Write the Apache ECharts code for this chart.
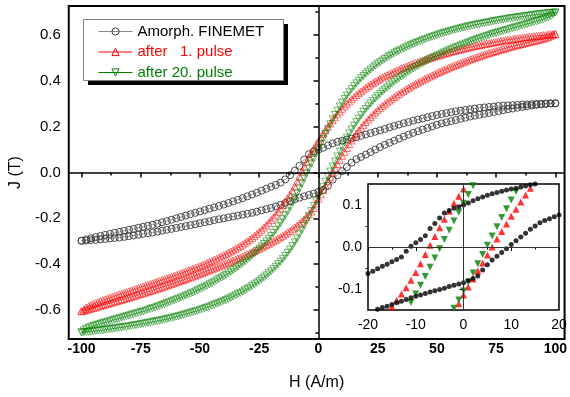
<!DOCTYPE html>
<html>
<head>
<meta charset="utf-8">
<script src="https://cdn.jsdelivr.net/npm/echarts@6/dist/echarts.min.js"></script>
<style>
  html, body { margin: 0; padding: 0; background: #fff; }
  #chart { width: 570px; height: 397px; }
</style>
</head>
<body>
<div id="chart"></div>
<script>
// field H (A/m) for the amorphous loop, 2 A/m steps
const hMain = [
  -100, -98, -96, -94, -92, -90, -88, -86, -84, -82,
  -80, -78, -76, -74, -72, -70, -68, -66, -64, -62,
  -60, -58, -56, -54, -52, -50, -48, -46, -44, -42,
  -40, -38, -36, -34, -32, -30, -28, -26, -24, -22,
  -20, -18, -16, -14, -12, -10, -8, -6, -4, -2,
  0, 2, 4, 6, 8, 10, 12, 14, 16, 18,
  20, 22, 24, 26, 28, 30, 32, 34, 36, 38,
  40, 42, 44, 46, 48, 50, 52, 54, 56, 58,
  60, 62, 64, 66, 68, 70, 72, 74, 76, 78,
  80, 82, 84, 86, 88, 90, 92, 94, 96, 98,
  100
];
// field H (A/m) for the pulsed loops, 1 A/m steps
const hFine = [
  -100, -99, -98, -97, -96, -95, -94, -93, -92, -91,
  -90, -89, -88, -87, -86, -85, -84, -83, -82, -81,
  -80, -79, -78, -77, -76, -75, -74, -73, -72, -71,
  -70, -69, -68, -67, -66, -65, -64, -63, -62, -61,
  -60, -59, -58, -57, -56, -55, -54, -53, -52, -51,
  -50, -49, -48, -47, -46, -45, -44, -43, -42, -41,
  -40, -39, -38, -37, -36, -35, -34, -33, -32, -31,
  -30, -29, -28, -27, -26, -25, -24, -23, -22, -21,
  -20, -19, -18, -17, -16, -15, -14, -13, -12, -11,
  -10, -9, -8, -7, -6, -5, -4, -3, -2, -1,
  0, 1, 2, 3, 4, 5, 6, 7, 8, 9,
  10, 11, 12, 13, 14, 15, 16, 17, 18, 19,
  20, 21, 22, 23, 24, 25, 26, 27, 28, 29,
  30, 31, 32, 33, 34, 35, 36, 37, 38, 39,
  40, 41, 42, 43, 44, 45, 46, 47, 48, 49,
  50, 51, 52, 53, 54, 55, 56, 57, 58, 59,
  60, 61, 62, 63, 64, 65, 66, 67, 68, 69,
  70, 71, 72, 73, 74, 75, 76, 77, 78, 79,
  80, 81, 82, 83, 84, 85, 86, 87, 88, 89,
  90, 91, 92, 93, 94, 95, 96, 97, 98, 99,
  100
];

// J (T): "Up" = descending (upper) branch, "Low" = ascending (lower) branch
const amorphUp = [
  -0.298, -0.292, -0.287, -0.282, -0.277, -0.272, -0.268, -0.263, -0.259, -0.254,
  -0.250, -0.246, -0.241, -0.237, -0.232, -0.228, -0.223, -0.217, -0.212, -0.206,
  -0.200, -0.194, -0.188, -0.182, -0.176, -0.170, -0.164, -0.158, -0.152, -0.146,
  -0.140, -0.133, -0.126, -0.119, -0.112, -0.104, -0.096, -0.088, -0.079, -0.071,
  -0.062, -0.054, -0.044, -0.030, -0.012, 0.008, 0.029, 0.056, 0.080, 0.092,
  0.100, 0.108, 0.118, 0.127, 0.134, 0.139, 0.144, 0.148, 0.154, 0.160,
  0.166, 0.172, 0.178, 0.184, 0.190, 0.197, 0.203, 0.209, 0.215, 0.220,
  0.226, 0.231, 0.236, 0.241, 0.246, 0.251, 0.255, 0.259, 0.263, 0.267,
  0.270, 0.273, 0.276, 0.279, 0.282, 0.284, 0.286, 0.288, 0.290, 0.292,
  0.293, 0.294, 0.295, 0.296, 0.297, 0.298, 0.299, 0.300, 0.301, 0.302,
  0.302
];
const amorphLow = [
  -0.298, -0.297, -0.295, -0.294, -0.292, -0.290, -0.288, -0.286, -0.284, -0.281,
  -0.278, -0.275, -0.272, -0.268, -0.265, -0.262, -0.258, -0.254, -0.250, -0.246,
  -0.242, -0.238, -0.234, -0.230, -0.226, -0.221, -0.217, -0.213, -0.208, -0.204,
  -0.200, -0.196, -0.192, -0.188, -0.184, -0.180, -0.176, -0.171, -0.165, -0.160,
  -0.155, -0.148, -0.141, -0.133, -0.125, -0.117, -0.110, -0.104, -0.098, -0.092,
  -0.085, -0.076, -0.058, -0.031, -0.012, 0.006, 0.024, 0.043, 0.058, 0.068,
  0.078, 0.089, 0.100, 0.111, 0.121, 0.130, 0.139, 0.148, 0.157, 0.165,
  0.173, 0.180, 0.187, 0.194, 0.201, 0.208, 0.214, 0.219, 0.224, 0.229,
  0.234, 0.239, 0.244, 0.248, 0.252, 0.256, 0.260, 0.264, 0.268, 0.272,
  0.276, 0.279, 0.283, 0.286, 0.289, 0.292, 0.295, 0.297, 0.299, 0.301,
  0.302
];
const pulse1Up = [
  -0.605, -0.596, -0.589, -0.583, -0.578, -0.573, -0.569, -0.565, -0.561, -0.557,
  -0.553, -0.550, -0.546, -0.543, -0.539, -0.536, -0.532, -0.529, -0.525, -0.522,
  -0.518, -0.515, -0.511, -0.508, -0.504, -0.501, -0.497, -0.494, -0.490, -0.487,
  -0.483, -0.480, -0.476, -0.473, -0.469, -0.466, -0.462, -0.459, -0.455, -0.451,
  -0.447, -0.444, -0.440, -0.436, -0.432, -0.428, -0.424, -0.420, -0.416, -0.412,
  -0.408, -0.404, -0.399, -0.395, -0.390, -0.386, -0.381, -0.376, -0.371, -0.366,
  -0.361, -0.356, -0.350, -0.345, -0.339, -0.333, -0.327, -0.321, -0.314, -0.307,
  -0.300, -0.293, -0.285, -0.277, -0.268, -0.259, -0.250, -0.240, -0.230, -0.219,
  -0.208, -0.196, -0.184, -0.171, -0.157, -0.142, -0.127, -0.112, -0.097, -0.079,
  -0.061, -0.040, -0.018, 0.004, 0.025, 0.046, 0.066, 0.085, 0.104, 0.121,
  0.138, 0.154, 0.170, 0.185, 0.200, 0.214, 0.228, 0.241, 0.254, 0.266,
  0.278, 0.289, 0.300, 0.310, 0.320, 0.329, 0.338, 0.346, 0.354, 0.362,
  0.370, 0.377, 0.384, 0.391, 0.397, 0.403, 0.409, 0.415, 0.420, 0.425,
  0.430, 0.435, 0.440, 0.445, 0.449, 0.454, 0.458, 0.462, 0.466, 0.470,
  0.474, 0.478, 0.482, 0.486, 0.489, 0.493, 0.496, 0.500, 0.503, 0.506,
  0.509, 0.512, 0.515, 0.518, 0.521, 0.524, 0.527, 0.530, 0.532, 0.535,
  0.537, 0.540, 0.542, 0.545, 0.547, 0.550, 0.552, 0.554, 0.556, 0.558,
  0.560, 0.562, 0.564, 0.566, 0.568, 0.570, 0.572, 0.574, 0.576, 0.578,
  0.579, 0.581, 0.582, 0.584, 0.585, 0.587, 0.588, 0.590, 0.591, 0.592,
  0.593, 0.595, 0.596, 0.597, 0.598, 0.599, 0.600, 0.602, 0.603, 0.604,
  0.605
];
const pulse1Low = [
  -0.605, -0.603, -0.600, -0.597, -0.594, -0.591, -0.588, -0.585, -0.582, -0.579,
  -0.576, -0.573, -0.570, -0.567, -0.564, -0.561, -0.558, -0.555, -0.552, -0.549,
  -0.546, -0.543, -0.540, -0.537, -0.533, -0.530, -0.527, -0.524, -0.520, -0.517,
  -0.514, -0.511, -0.507, -0.504, -0.500, -0.497, -0.493, -0.490, -0.486, -0.483,
  -0.479, -0.476, -0.472, -0.469, -0.465, -0.461, -0.457, -0.454, -0.450, -0.446,
  -0.442, -0.438, -0.434, -0.430, -0.426, -0.422, -0.418, -0.414, -0.410, -0.406,
  -0.401, -0.397, -0.393, -0.389, -0.384, -0.380, -0.375, -0.371, -0.366, -0.362,
  -0.357, -0.352, -0.347, -0.342, -0.337, -0.332, -0.327, -0.322, -0.316, -0.311,
  -0.305, -0.300, -0.294, -0.288, -0.282, -0.276, -0.269, -0.262, -0.255, -0.248,
  -0.240, -0.232, -0.223, -0.214, -0.204, -0.194, -0.183, -0.170, -0.155, -0.135,
  -0.114, -0.095, -0.076, -0.057, -0.038, -0.019, 0.000, 0.019, 0.037, 0.055,
  0.073, 0.090, 0.107, 0.124, 0.140, 0.155, 0.170, 0.183, 0.196, 0.208,
  0.220, 0.231, 0.242, 0.252, 0.262, 0.272, 0.281, 0.290, 0.298, 0.306,
  0.314, 0.322, 0.329, 0.336, 0.343, 0.350, 0.356, 0.363, 0.369, 0.375,
  0.381, 0.387, 0.392, 0.398, 0.403, 0.409, 0.414, 0.419, 0.424, 0.429,
  0.434, 0.439, 0.443, 0.448, 0.452, 0.457, 0.461, 0.465, 0.469, 0.473,
  0.477, 0.481, 0.485, 0.489, 0.493, 0.497, 0.500, 0.504, 0.507, 0.511,
  0.514, 0.518, 0.521, 0.524, 0.527, 0.530, 0.533, 0.536, 0.539, 0.542,
  0.545, 0.548, 0.551, 0.554, 0.556, 0.559, 0.561, 0.564, 0.566, 0.569,
  0.571, 0.574, 0.576, 0.579, 0.581, 0.584, 0.587, 0.591, 0.595, 0.600,
  0.605
];
const pulse20Up = [
  -0.698, -0.689, -0.682, -0.677, -0.673, -0.669, -0.666, -0.663, -0.660, -0.657,
  -0.654, -0.651, -0.648, -0.645, -0.642, -0.639, -0.636, -0.633, -0.630, -0.627,
  -0.624, -0.621, -0.618, -0.615, -0.612, -0.609, -0.606, -0.603, -0.599, -0.596,
  -0.592, -0.589, -0.585, -0.582, -0.578, -0.574, -0.570, -0.566, -0.562, -0.558,
  -0.554, -0.550, -0.546, -0.542, -0.537, -0.533, -0.528, -0.524, -0.519, -0.514,
  -0.509, -0.504, -0.499, -0.494, -0.488, -0.483, -0.477, -0.471, -0.465, -0.459,
  -0.453, -0.447, -0.440, -0.433, -0.426, -0.419, -0.411, -0.404, -0.396, -0.388,
  -0.380, -0.371, -0.362, -0.353, -0.343, -0.333, -0.323, -0.312, -0.301, -0.289,
  -0.277, -0.264, -0.250, -0.235, -0.220, -0.204, -0.188, -0.170, -0.152, -0.132,
  -0.112, -0.091, -0.070, -0.048, -0.026, -0.004, 0.018, 0.040, 0.062, 0.083,
  0.104, 0.125, 0.146, 0.168, 0.190, 0.211, 0.232, 0.251, 0.270, 0.288,
  0.305, 0.321, 0.336, 0.350, 0.364, 0.377, 0.389, 0.400, 0.411, 0.421,
  0.431, 0.440, 0.449, 0.458, 0.466, 0.474, 0.481, 0.488, 0.495, 0.502,
  0.508, 0.514, 0.520, 0.526, 0.531, 0.536, 0.541, 0.546, 0.551, 0.556,
  0.560, 0.565, 0.569, 0.573, 0.577, 0.581, 0.585, 0.589, 0.592, 0.596,
  0.599, 0.603, 0.606, 0.609, 0.612, 0.615, 0.618, 0.621, 0.624, 0.627,
  0.629, 0.632, 0.634, 0.637, 0.639, 0.642, 0.644, 0.646, 0.648, 0.650,
  0.652, 0.654, 0.656, 0.658, 0.660, 0.662, 0.664, 0.666, 0.667, 0.669,
  0.671, 0.673, 0.674, 0.676, 0.677, 0.679, 0.680, 0.682, 0.683, 0.685,
  0.686, 0.688, 0.689, 0.690, 0.691, 0.693, 0.694, 0.695, 0.696, 0.697,
  0.698
];
const pulse20Low = [
  -0.698, -0.697, -0.696, -0.695, -0.694, -0.693, -0.691, -0.690, -0.689, -0.688,
  -0.686, -0.685, -0.683, -0.682, -0.680, -0.679, -0.677, -0.676, -0.674, -0.673,
  -0.671, -0.669, -0.667, -0.666, -0.664, -0.662, -0.660, -0.658, -0.656, -0.654,
  -0.652, -0.650, -0.648, -0.646, -0.644, -0.642, -0.639, -0.637, -0.634, -0.632,
  -0.629, -0.627, -0.624, -0.621, -0.618, -0.615, -0.612, -0.609, -0.606, -0.603,
  -0.599, -0.596, -0.592, -0.589, -0.585, -0.581, -0.577, -0.573, -0.569, -0.565,
  -0.560, -0.556, -0.551, -0.546, -0.541, -0.536, -0.531, -0.526, -0.520, -0.514,
  -0.508, -0.502, -0.495, -0.488, -0.481, -0.474, -0.466, -0.458, -0.449, -0.440,
  -0.431, -0.421, -0.411, -0.400, -0.389, -0.377, -0.364, -0.350, -0.336, -0.321,
  -0.305, -0.288, -0.270, -0.251, -0.232, -0.211, -0.190, -0.168, -0.146, -0.126,
  -0.105, -0.084, -0.062, -0.040, -0.018, 0.004, 0.026, 0.048, 0.070, 0.091,
  0.112, 0.132, 0.152, 0.170, 0.188, 0.204, 0.220, 0.235, 0.250, 0.264,
  0.277, 0.289, 0.301, 0.312, 0.323, 0.333, 0.343, 0.353, 0.362, 0.371,
  0.380, 0.388, 0.396, 0.404, 0.411, 0.419, 0.426, 0.433, 0.440, 0.447,
  0.453, 0.459, 0.465, 0.471, 0.477, 0.483, 0.488, 0.494, 0.499, 0.504,
  0.509, 0.514, 0.519, 0.524, 0.528, 0.533, 0.537, 0.542, 0.546, 0.550,
  0.554, 0.558, 0.562, 0.566, 0.570, 0.574, 0.578, 0.582, 0.585, 0.589,
  0.592, 0.596, 0.599, 0.603, 0.606, 0.609, 0.612, 0.615, 0.618, 0.621,
  0.624, 0.627, 0.630, 0.633, 0.636, 0.639, 0.642, 0.645, 0.648, 0.651,
  0.654, 0.657, 0.660, 0.663, 0.666, 0.669, 0.673, 0.677, 0.682, 0.689,
  0.698
];

// inset: amorphous loop read at 1 A/m steps
const hInset = [
  -20, -19, -18, -17, -16, -15, -14, -13, -12, -11,
  -10, -9, -8, -7, -6, -5, -4, -3, -2, -1,
  0, 1, 2, 3, 4, 5, 6, 7, 8, 9,
  10, 11, 12, 13, 14, 15, 16, 17, 18, 19,
  20
];
const amorphUpInset = [
  -0.063, -0.058, -0.052, -0.046, -0.041, -0.035, -0.030, -0.024, -0.010, 0.002,
  0.010, 0.018, 0.027, 0.044, 0.056, 0.069, 0.081, 0.087, 0.092, 0.096,
  0.100, 0.105, 0.110, 0.115, 0.119, 0.123, 0.127, 0.130, 0.133, 0.136,
  0.138, 0.140, 0.143, 0.145, 0.148, 0.150, 0.153, 0.156, 0.159, 0.162,
  0.165
];
const amorphLowInset = [
  -0.155, -0.152, -0.148, -0.144, -0.141, -0.137, -0.133, -0.129, -0.125, -0.121,
  -0.117, -0.114, -0.111, -0.107, -0.104, -0.101, -0.098, -0.094, -0.091, -0.088,
  -0.085, -0.080, -0.075, -0.069, -0.055, -0.042, -0.031, -0.022, -0.013, -0.004,
  0.006, 0.015, 0.024, 0.033, 0.042, 0.050, 0.058, 0.063, 0.067, 0.072,
  0.076
];

// ticks
const xTicks = [-100, -75, -50, -25, 0, 25, 50, 75, 100];
const xMinor = [-87.5, -62.5, -37.5, -12.5, 12.5, 37.5, 62.5, 87.5];
const yTicks = [-0.6, -0.4, -0.2, 0, 0.2, 0.4, 0.6];
const yMinor = [-0.7, -0.5, -0.3, -0.1, 0.1, 0.3, 0.5, 0.7];
const yInsetTicks = [-0.1, 0, 0.1];
const yInsetMinor = [-0.05, 0.05];

const names = ['Amorph. FINEMET', 'after   1. pulse', 'after 20. pulse'];

const FONT = '"Liberation Sans", Arial, sans-serif';
const GREY = '#3a3a3a';
const RED = '#ff0000';
const GREEN = '#008000';

// whole loop: down the upper branch, back up the lower branch
function loop(hs, up, low) {
  const down = hs.map((h, i) => [h, up[i]]).reverse();
  const back = hs.map((h, i) => [h, low[i]]);
  return down.concat(back);
}
// both branches of a loop, only the part inside the inset field window
function insetPts(hs, up, low) {
  const pts = [];
  hs.forEach((h, i) => { if (h >= -20 && h <= 20) pts.push([h, up[i]]); });
  hs.forEach((h, i) => { if (h >= -20 && h <= 20) pts.push([h, low[i]]); });
  return pts;
}

const chart = echarts.init(document.getElementById('chart'));

const noFill = 'rgba(255,255,255,0)';
const fmt1 = v => v.toFixed(1);

const option = {
  animation: false,
  backgroundColor: '#fff',
  textStyle: { fontFamily: FONT },
  grid: [
    { left: 68, top: 6, right: 3, bottom: 58, show: true, borderColor: '#000', borderWidth: 2 },
    { left: 368, top: 184, right: 11, bottom: 87, show: true, borderColor: '#000', borderWidth: 1.5, backgroundColor: '#fff' }
  ],
  legend: {
    orient: 'vertical',
    left: 98,
    top: 24,
    padding: 0,
    itemGap: 5.5,
    itemWidth: 34,
    itemHeight: 9,
    selectedMode: false,
    lineStyle: { width: 1 },
    itemStyle: { borderWidth: 1 },
    textStyle: { fontFamily: FONT, fontSize: 15, lineHeight: 14 },
    data: [
      { name: names[0], textStyle: { color: '#000' } },
      { name: names[1], textStyle: { color: RED } },
      { name: names[2], textStyle: { color: GREEN } }
    ]
  },
  graphic: [
    { type: 'rect', z: 2, shape: { x: 88, y: 24, width: 200, height: 61 }, style: { fill: '#000' } },
    { type: 'rect', z: 3, shape: { x: 83.5, y: 19.5, width: 200, height: 61 }, style: { fill: '#fff', stroke: '#808080', lineWidth: 1 } }
  ],
  xAxis: [
    {
      gridIndex: 0, type: 'value', min: -105.4, max: 103.9, position: 'bottom',
      axisLine: { show: false },
      axisTick: { length: 5, customValues: xTicks, lineStyle: { color: '#000', width: 1.5 } },
      axisLabel: { customValues: xTicks, fontFamily: FONT, fontSize: 14, fontWeight: 'bold', color: '#000', margin: 3 },
      splitLine: { show: false },
      name: 'H (A/m)', nameLocation: 'middle', nameGap: 36,
      nameTextStyle: { fontFamily: FONT, fontSize: 16, color: '#000' }
    },
    {
      gridIndex: 0, type: 'value', min: -105.4, max: 103.9, position: 'bottom',
      axisLine: { show: false },
      axisTick: { length: 3, customValues: xMinor, lineStyle: { color: '#000', width: 1.5 } },
      axisLabel: { show: false },
      splitLine: { show: false }
    },
    {
      gridIndex: 1, type: 'value', min: -20, max: 20, interval: 10, position: 'bottom',
      axisLine: { show: false },
      axisTick: { length: 4, lineStyle: { color: '#000', width: 1 } },
      minorTick: { show: true, splitNumber: 2, length: 2.5, lineStyle: { color: '#000', width: 1 } },
      axisLabel: { fontFamily: FONT, fontSize: 14, color: '#000', margin: 8 },
      splitLine: { show: false }
    }
  ],
  yAxis: [
    {
      gridIndex: 0, type: 'value', min: -0.7265, max: 0.7265, position: 'left',
      axisLine: { show: false },
      axisTick: { length: 5, customValues: yTicks, lineStyle: { color: '#000', width: 1.5 } },
      axisLabel: { customValues: yTicks, formatter: fmt1, fontFamily: FONT, fontSize: 15, color: '#000', margin: 8 },
      splitLine: { show: false },
      name: 'J (T)', nameLocation: 'middle', nameGap: 40,
      nameTextStyle: { fontFamily: FONT, fontSize: 16, color: '#000' }
    },
    {
      gridIndex: 0, type: 'value', min: -0.7265, max: 0.7265, position: 'left',
      axisLine: { show: false },
      axisTick: { length: 3, customValues: yMinor, lineStyle: { color: '#000', width: 1.5 } },
      axisLabel: { show: false },
      splitLine: { show: false }
    },
    {
      gridIndex: 1, type: 'value', min: -0.15, max: 0.15, position: 'left',
      axisLine: { show: false },
      axisTick: { length: 4, customValues: yInsetTicks, lineStyle: { color: '#000', width: 1 } },
      axisLabel: { customValues: yInsetTicks, formatter: fmt1, fontFamily: FONT, fontSize: 14, color: '#000', margin: 6 },
      splitLine: { show: false }
    },
    {
      gridIndex: 1, type: 'value', min: -0.15, max: 0.15, position: 'left',
      axisLine: { show: false },
      axisTick: { length: 2.5, customValues: yInsetMinor, lineStyle: { color: '#000', width: 1 } },
      axisLabel: { show: false },
      splitLine: { show: false }
    }
  ],
  series: [
    {
      name: names[0], type: 'line', xAxisIndex: 0, yAxisIndex: 0,
      data: loop(hMain, amorphUp, amorphLow),
      symbol: 'circle', symbolSize: 7,
      itemStyle: { color: noFill, borderColor: GREY, borderWidth: 0.9 },
      lineStyle: { color: '#8a8a8a', width: 0.8 },
      markLine: {
        silent: true, symbol: ['none', 'none'], label: { show: false },
        lineStyle: { color: '#000', width: 1.5, type: 'solid' },
        data: [{ xAxis: 0 }, { yAxis: 0 }]
      }
    },
    {
      name: names[1], type: 'line', xAxisIndex: 0, yAxisIndex: 0,
      data: loop(hFine, pulse1Up, pulse1Low),
      symbol: 'triangle', symbolSize: 7,
      itemStyle: { color: noFill, borderColor: RED, borderWidth: 0.55 },
      lineStyle: { color: RED, width: 0.6 }
    },
    {
      name: names[2], type: 'line', xAxisIndex: 0, yAxisIndex: 0,
      data: loop(hFine, pulse20Up, pulse20Low),
      symbol: 'triangle', symbolRotate: 180, symbolSize: 7,
      itemStyle: { color: noFill, borderColor: GREEN, borderWidth: 0.55 },
      lineStyle: { color: GREEN, width: 0.6 }
    },
    {
      name: 'inset-1', type: 'scatter', xAxisIndex: 2, yAxisIndex: 2,
      data: insetPts(hFine, pulse1Up, pulse1Low),
      symbol: 'triangle', symbolSize: 7,
      itemStyle: { color: RED }
    },
    {
      name: 'inset-20', type: 'scatter', xAxisIndex: 2, yAxisIndex: 2,
      data: insetPts(hFine, pulse20Up, pulse20Low),
      symbol: 'triangle', symbolRotate: 180, symbolSize: 7,
      itemStyle: { color: GREEN }
    },
    {
      name: 'inset-amorph', type: 'scatter', xAxisIndex: 2, yAxisIndex: 2,
      data: insetPts(hInset, amorphUpInset, amorphLowInset),
      symbol: 'circle', symbolSize: 5,
      itemStyle: { color: '#000' },
      markLine: {
        silent: true, symbol: ['none', 'none'], label: { show: false },
        lineStyle: { color: '#333', width: 1, type: 'solid' },
        data: [{ xAxis: 0 }, { yAxis: 0 }]
      }
    }
  ]
};

chart.setOption(option);
</script>
</body>
</html>
